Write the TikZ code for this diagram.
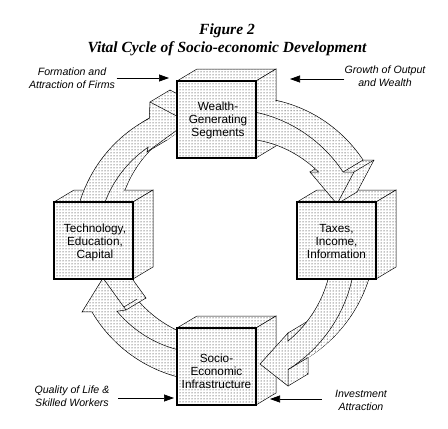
\documentclass[tikz,border=0pt]{standalone}
\usepackage{fontspec}
\setmainfont{Liberation Serif}
\newfontfamily\labelfont{Liberation Sans}
\usetikzlibrary{arrows.meta,patterns}

% spiral arc round the hub of the cycle: from angle #1 (radius #3) to angle #2 (radius #4)
\newcommand{\cyclearc}[4]{plot[domain=#1:#2, samples=40]
  ({215+(#3+(#4-#3)*(\noexpand\x-#1)/(#2-#1))*cos(\noexpand\x)},
   {242+(#3+(#4-#3)*(\noexpand\x-#1)/(#2-#1))*sin(\noexpand\x)})}

% front outlines of the four curved arrows
\edef\arrowfirms{\cyclearc{196.5}{242}{141}{140} -- (150,102) -- (188,122) -- (147,152) -- \cyclearc{234.8}{200}{116}{117} -- cycle}
\edef\arrowoutput{\cyclearc{287.5}{331.35}{136}{146} -- (354,172) -- (337,204) -- (310,172) -- \cyclearc{326}{291.9}{125}{110} -- cycle}
\edef\arrowinvest{\cyclearc{15.1}{60.2}{142}{147} -- (288,386) -- (260,364) -- (288,333) -- \cyclearc{53.6}{18.1}{123}{119} -- cycle}
\edef\arrowskills{\cyclearc{105.75}{150.4}{140}{141.5} -- (82,312) -- (103,278) -- (126,310) -- \cyclearc{144.8}{109.47}{120}{114} -- cycle}

% solid arrow: back face and swept body; the caller draws the front face
\newcommand{\arrowbody}[1]{%
  \draw[face, shift={(20,-12)}] #1;
  \foreach \k in {15,...,1}{\path[sweep, shift={(1.25*\k,-0.75*\k)}] #1;}
}

\begin{document}
\begin{tikzpicture}[x=1pt, y=-1pt,
  face/.style={draw, line width=0.5pt, preaction={fill=white}, pattern=dots},
  sweep/.style={preaction={fill=white}, pattern=dots},
  edge/.style={line width=0.5pt},
  frontface/.style={face, line width=1.4pt},
  cubelabel/.style={font=\labelfont\fontsize{11.8}{13}\selectfont, align=center, inner sep=0pt},
  sidelabel/.style={font=\labelfont\itshape\fontsize{10.6}{13}\selectfont, align=center, inner sep=0pt},
  labelarrow/.style={line width=0.7pt, -{Triangle[length=10pt,width=7pt]}}]

  \fill[white] (0,0) rectangle (448,429);
  \useasboundingbox (0,0) rectangle (448,429);

  \node[font=\bfseries\itshape\fontsize{15.5}{18}\selectfont, align=center] (title) at (227,40)
    {Figure 2\\Vital Cycle of Socio-economic Development};

  \coordinate (hub) at (215,242);
  \foreach \name/\cx/\cy in {wealthbox/177/81, techbox/54/202, taxesbox/297/202, sociobox/177/328}
    \coordinate (\name) at (\cx,\cy);

  % top and side faces of the boxes
  \foreach \name in {wealthbox, techbox, taxesbox, sociobox}{
    \draw[face] (\name) -- ++(20,-12) -- ++(79,0) -- ++(-20,12) -- cycle;
    \draw[face] (\name) ++(79,0) -- ++(20,-12) -- ++(0,77) -- ++(-20,12) -- cycle;
  }

  % arrow: technology -> wealth
  \arrowbody{\arrowfirms}
  \draw[edge] (150,102) -- ++(20,-12);
  \draw[edge] (147,152) -- ++(20,-12);
  \draw[edge] (hub) ++(239:140.1) -- ++(20,-12);
  \draw[face] \arrowfirms;

  % arrow: wealth -> taxes
  \arrowbody{\arrowoutput}
  \draw[edge] (hub) ++(331.35:146) -- ++(20,-12);
  \draw[edge] (354,172) -- ++(20,-12);
  \draw[edge] (337,204) -- ++(20,-12);
  \draw[edge] (310,172) -- ++(20,-12);
  \draw[face] \arrowoutput;

  % arrow: taxes -> infrastructure
  \arrowbody{\arrowinvest}
  \draw[edge] (hub) ++(60.2:147) -- ++(20,-12);
  \draw[edge] (288,386) -- ++(20,-12);
  \draw[edge] (288,333) -- ++(20,-12);
  \draw[face] \arrowinvest;

  % arrow: infrastructure -> technology
  \arrowbody{\arrowskills}
  \draw[edge] (103,278) -- ++(20,-12);
  \draw[edge] (126,310) -- ++(20,-12);
  \draw[edge] (hub) ++(144.8:120) -- ++(20,-12);
  \draw[face] \arrowskills;

  % front faces of the boxes
  \foreach \name in {wealthbox, techbox, taxesbox, sociobox}
    \draw[frontface] (\name) rectangle ++(79,77);

  \node[cubelabel] (wealth) at (218,120) {Wealth-\\Generating\\Segments};
  \node[cubelabel] (tech) at (95,242) {Technology,\\Education,\\Capital};
  \node[cubelabel] (taxes) at (336.5,241) {Taxes,\\Income,\\Information};
  \node[cubelabel] (socio) at (216.5,371) {Socio-\\Economic\\Infrastructure};

  % side notes
  \node[sidelabel] (firms) at (72,78.5) {Formation and\\Attraction of Firms};
  \node[sidelabel] (growth) at (385,76.5) {Growth of Output\\and Wealth};
  \node[sidelabel] (quality) at (72,396.5) {Quality of Life \&\\Skilled Workers};
  \node[sidelabel] (investment) at (361,400.5) {Investment\\Attraction};

  \coordinate (firms-tip) at (169,78);
  \coordinate (growth-tip) at (290,79);
  \coordinate (quality-tip) at (174,398);
  \coordinate (investment-tip) at (270,399);

  \draw[labelarrow, shorten <=1.5pt] (firms.east |- firms-tip) -- (firms-tip);
  \draw[labelarrow] (growth.west |- growth-tip) -- (growth-tip);
  \draw[labelarrow, shorten <=8.5pt] (quality.east |- quality-tip) -- (quality-tip);
  \draw[labelarrow, shorten <=13pt] (investment.west |- investment-tip) -- (investment-tip);
\end{tikzpicture}
\end{document}
